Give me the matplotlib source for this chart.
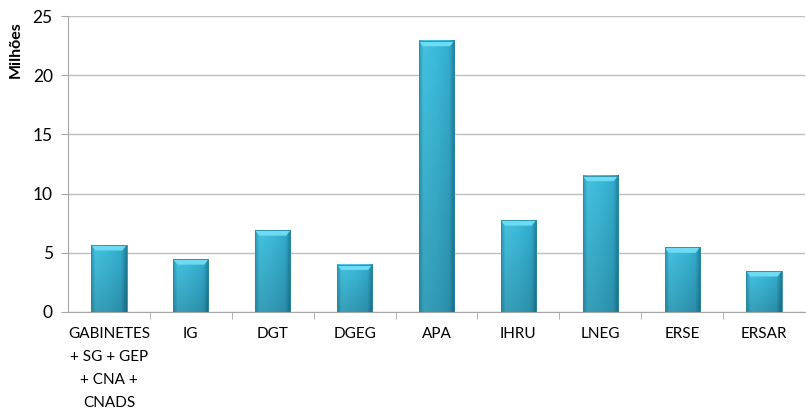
import matplotlib.pyplot as plt
import numpy as np
from matplotlib.colors import to_rgb
from matplotlib.patches import Polygon

categories = ["GABINETES\n+ SG + GEP\n+ CNA +\nCNADS", "IG", "DGT", "DGEG", "APA",
              "IHRU", "LNEG", "ERSE", "ERSAR"]
values = [5.65, 4.45, 6.9, 4.0, 22.9, 7.75, 11.5, 5.45, 3.45]

plt.rcParams["font.family"] = ["Lato", "DejaVu Sans"]

fig = plt.figure(figsize=(8.06, 4.11), dpi=100)
ax = fig.add_axes([68 / 806, 1 - 312 / 411, (805 - 68) / 806, (312 - 16) / 411])

# horizontal colour profile of the cylinder-like bars
stops = [0.0, 0.12, 0.5, 0.85, 1.0]
cols = [to_rgb(c) for c in ["#2a9ab8", "#44c2e0", "#3cbadb", "#34acce", "#1f7f99"]]
xs = np.linspace(0, 1, 64)
prof = np.stack([np.interp(xs, stops, [c[k] for c in cols]) for k in range(3)], axis=-1)
shade = np.linspace(1.0, 0.82, 60)[:, None, None]  # darker towards the bottom
img = np.clip(prof[None, :, :] * shade, 0, 1)

w = 0.43
for i, v in enumerate(values):
    x0, x1 = i - w / 2, i + w / 2
    ax.imshow(img, extent=(x0, x1, 0, v), aspect="auto", origin="upper", zorder=3)
    bev = 0.45
    ax.add_patch(Polygon([[x0, v], [x1, v], [x1 - 0.05, v - bev], [x0 + 0.05, v - bev]],
                         closed=True, facecolor="#6ddcf3", edgecolor="none", zorder=4))
    ax.plot([x0, x1, x1, x0, x0], [0, 0, v, v, 0], color="#2a8aa3", lw=0.6, zorder=5)

ax.set_xlim(-0.5, len(categories) - 0.5)
ax.set_ylim(0, 25)
ax.set_yticks(range(0, 26, 5))
ax.set_xticks(range(len(categories)))
ax.set_xticklabels(categories, fontsize=11, linespacing=1.8, va="top")
ax.set_xticks(np.arange(0.5, len(categories) - 0.5, 1), minor=True)
ax.tick_params(axis="x", which="major", length=0, pad=11)
ax.tick_params(axis="x", which="minor", length=5, color="#a6a6a6")
ax.tick_params(axis="y", length=5, color="#a6a6a6", labelsize=12.5, pad=6)

ax.grid(axis="y", color="#bfbfbf", lw=1)
ax.set_axisbelow(True)
for s in ["top", "right"]:
    ax.spines[s].set_visible(False)
for s in ["left", "bottom"]:
    ax.spines[s].set_color("#a6a6a6")

ax.set_ylabel("Milhões", fontsize=11.5, fontweight="bold")
ax.yaxis.set_label_coords(-0.062, 0.885)

fig.savefig("out.png", dpi=100)
